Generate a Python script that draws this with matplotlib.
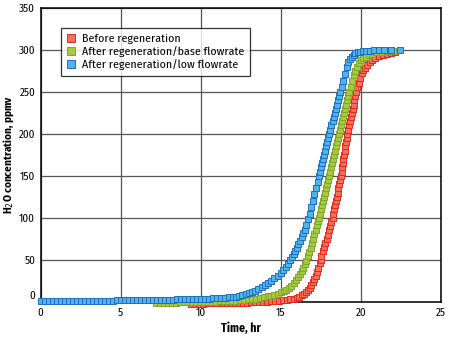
import matplotlib
matplotlib.use("Agg")
import matplotlib.pyplot as plt

plt.rcParams['font.family'] = ['Fira Sans Condensed', 'DejaVu Sans']

# Before regeneration
t_before = [9.4, 9.65, 9.9, 10.15, 10.4, 10.65, 10.9, 11.15, 11.4, 11.65, 11.9, 12.15, 12.4, 12.65,
            12.9, 13.15, 13.4, 13.65, 13.9, 14.15, 14.4, 14.65, 14.9, 15.15, 15.4, 15.6, 15.8, 16.0,
            16.15, 16.3, 16.45, 16.58, 16.7, 16.8, 16.9, 17.0, 17.1, 17.18, 17.26, 17.34, 17.42, 17.48,
            17.53, 17.61, 17.69, 17.77, 17.85, 17.92, 18.0, 18.08, 18.16, 18.23,
            18.28, 18.33, 18.39, 18.44, 18.49, 18.54, 18.59, 18.65, 18.7, 18.75,
            18.79, 18.83, 18.87, 18.91, 18.95, 18.99, 19.03, 19.07, 19.11, 19.16,
            19.21, 19.27, 19.32, 19.37, 19.43, 19.48, 19.54, 19.59, 19.64, 19.69,
            19.77, 19.85, 19.95, 20.05, 20.16, 20.27, 20.4, 20.55, 20.7, 20.9, 21.1, 21.35, 21.6, 21.85, 22.1]
c_before = [-2.5, -2.4, -2.3, -2.2, -2.1, -2.0, -1.9, -1.8, -1.7, -1.6, -1.5, -1.4, -1.3, -1.2,
            -1.0, -0.9, -0.7, -0.5, -0.3, 0.0, 0.3, 0.7, 1.1, 1.6, 2.2, 2.8, 3.6, 4.8,
            6.0, 7.6, 9.5, 11.7, 14.2, 16.8, 19.8, 23.2, 27.2, 31, 35.5, 40.5, 46, 50,
            55, 60, 65, 70, 75, 80, 85, 90, 95, 100,
            105, 110, 115, 120, 125, 130, 135, 140, 145, 150,
            155, 160, 165, 170, 175, 180, 185, 190, 195, 200,
            205, 210, 215, 220, 225, 230, 235, 240, 245, 250,
            256, 261, 267, 272, 276, 279, 282.5, 285.5, 288, 290.5, 292.5, 294.3, 295.7, 296.8, 297.6]

# After regeneration / base flowrate
t_base = [7.2, 7.45, 7.7, 7.95, 8.2, 8.45, 8.7, 8.95, 9.2, 9.45, 9.7, 9.95, 10.2, 10.45, 10.7,
          10.95, 11.2, 11.45, 11.7, 11.95, 12.2, 12.45, 12.7, 12.95, 13.2, 13.45, 13.7, 13.95,
          14.2, 14.4, 14.6, 14.8, 15.0, 15.2, 15.35, 15.5, 15.65, 15.8, 15.95, 16.1, 16.2, 16.3,
          16.4, 16.5, 16.6,
          16.7, 16.78, 16.86, 16.94, 17.02, 17.1, 17.18, 17.26, 17.33, 17.4,
          17.46, 17.52, 17.58, 17.64, 17.7, 17.76, 17.82, 17.88, 17.95, 18.02,
          18.08, 18.14, 18.2, 18.26, 18.31, 18.37, 18.43, 18.49, 18.55, 18.6,
          18.67, 18.74, 18.8, 18.87, 18.94, 19.0, 19.07, 19.14, 19.2, 19.27,
          19.35, 19.45, 19.55, 19.65, 19.75, 19.87, 20.0, 20.15, 20.3, 20.5, 20.7, 20.95, 21.25, 21.6, 22.0]
c_base = [-1.5, -1.4, -1.3, -1.2, -1.1, -1.0, -0.9, -0.8, -0.7, -0.6, -0.5, -0.4, -0.3, -0.1, 0.0,
          0.2, 0.4, 0.6, 0.8, 1.1, 1.4, 1.8, 2.2, 2.7, 3.2, 3.8, 4.5, 5.3,
          6.2, 7.1, 8.2, 9.5, 11.0, 12.8, 14.5, 16.5, 19, 22, 25.5, 29.5, 32.5, 36,
          40, 44.5, 49,
          54, 59, 64, 69.5, 75, 80.5, 86, 91, 96, 100,
          105, 110, 115, 120, 125, 130, 135, 140, 145, 150,
          155, 160, 165, 170, 175, 180, 185, 190, 195, 200,
          205, 210, 215, 220, 225, 230, 235, 240, 245, 250,
          256, 263, 270, 275.5, 280, 284, 287.5, 290.5, 291.5, 293.8, 295.5, 297, 298, 298.8, 299.3]

# After regeneration / low flowrate
t_low = [0.0, 0.25, 0.5, 0.75, 1.0, 1.25, 1.5, 1.75, 2.0, 2.25, 2.5, 2.75, 3.0, 3.25, 3.5, 3.75,
         4.0, 4.25, 4.5, 4.75, 5.0, 5.25, 5.5, 5.75, 6.0, 6.25, 6.5, 6.75, 7.0, 7.25, 7.5, 7.75,
         8.0, 8.25, 8.5, 8.75, 9.0, 9.25, 9.5, 9.75, 10.0, 10.25, 10.5, 10.75, 11.0, 11.25, 11.5,
         11.75, 12.0,
         12.2, 12.4, 12.6, 12.8, 13.0, 13.2, 13.4, 13.6, 13.8, 14.0, 14.2, 14.4, 14.6, 14.8, 15.0,
         15.15, 15.3, 15.45, 15.6,
         15.7, 15.8, 15.9, 16.0, 16.1, 16.2, 16.3, 16.4, 16.5, 16.6, 16.7,
         16.8, 16.9, 17.0, 17.1, 17.2, 17.3, 17.4,
         17.46, 17.52, 17.58, 17.64, 17.7, 17.76, 17.82, 17.88, 17.95, 18.02,
         18.09, 18.16, 18.23, 18.3, 18.37, 18.44, 18.51, 18.58, 18.65, 18.71,
         18.81, 18.9, 19.0, 19.12, 19.22, 19.32, 19.43, 19.54, 19.66, 19.8, 19.95, 20.1, 20.3,
         20.55, 20.8, 21.1, 21.45, 21.9, 22.45]
c_low = [0.5, 0.6, 0.6, 0.7, 0.7, 0.8, 0.8, 0.9, 0.9, 1.0, 1.0, 1.1, 1.1, 1.2, 1.2, 1.3,
         1.3, 1.4, 1.4, 1.5, 1.5, 1.6, 1.7, 1.7, 1.8, 1.9, 2.0, 2.0, 2.1, 2.2, 2.3, 2.4,
         2.5, 2.6, 2.7, 2.8, 2.9, 3.0, 3.1, 3.3, 3.4, 3.6, 3.8, 4.0, 4.2, 4.5, 4.8,
         5.1, 5.5,
         6.1, 6.9, 7.8, 8.9, 10.2, 11.7, 13.3, 15.2, 17.3, 19.6, 22.1, 24.8, 27.7, 30.8, 34.2,
         37.5, 41.0, 45.0, 49.5,
         53, 56.5, 60.5, 64.5, 68.5, 72.5, 77, 81.5, 86, 92, 98,
         105, 113, 120, 128, 135, 143, 150,
         155, 160, 165, 170, 175, 180, 185, 190, 195, 200,
         205, 210, 215, 220, 225, 230, 235, 240, 245, 250,
         256, 263, 271, 280, 285.5, 289.5, 292, 294, 295.8, 297.2, 298, 298.6, 299,
         299.3, 299.5, 299.7, 299.8, 299.9, 300]

series = [
    ("Before regeneration", t_before, c_before, "#f4705f", "#e8281c"),
    ("After regeneration/base flowrate", t_base, c_base, "#a5c941", "#80a52a"),
    ("After regeneration/low flowrate", t_low, c_low, "#52b2ea", "#1d6fc0"),
]

fig = plt.figure(figsize=(4.5, 3.38), dpi=100)
ax = fig.add_axes([0.0904, 0.1074, 0.8896, 0.8689])

for name, t, c, face, edge in series:
    ax.plot(t, c, linestyle="none", marker="s", markersize=4.9,
            markerfacecolor=face, markeredgecolor=edge, markeredgewidth=0.7,
            label=name, clip_on=False, zorder=3)

ax.set_xlim(0, 25)
ax.set_ylim(0, 350)
ax.set_xticks([0, 5, 10, 15, 20, 25])
ax.set_yticks([0, 50, 100, 150, 200, 250, 300, 350])
ax.grid(True, color="#555555", linewidth=0.9)
ax.set_axisbelow(True)
ax.tick_params(length=0, labelsize=8, pad=4)
for s in ax.spines.values():
    s.set_color("black")
    s.set_linewidth(1.1)
ax.get_yticklabels()[0].set_va("bottom")

ax.set_xlabel("Time, hr", fontsize=8.5, fontweight="bold", labelpad=3)
ax.set_ylabel("H$_2$O concentration, ppmv", fontsize=8, fontweight="bold", labelpad=2)

leg = ax.legend(loc="upper left", bbox_to_anchor=(0.035, 0.952), fontsize=8.5,
                frameon=True, fancybox=False, borderpad=0.5, handletextpad=0.5,
                handlelength=0.8, labelspacing=0.15, markerscale=1.15)
leg.get_frame().set_edgecolor("black")
leg.get_frame().set_linewidth(0.9)

fig.savefig("out.png", dpi=100)
